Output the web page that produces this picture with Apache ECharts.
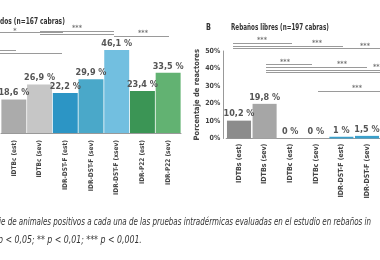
<!DOCTYPE html>
<html><head><meta charset="utf-8">
<script src="https://cdn.jsdelivr.net/npm/echarts@6/dist/echarts.min.js"></script>
<style>html,body{margin:0;padding:0;background:#fff}#c{width:380px;height:260px}</style>
</head><body><div id="c"></div>
<script>
const leftCategories = ['IDTBc (est)','IDTBc (sev)','IDR-DST-F (est)','IDR-DST-F (sev)','IDR-DST-F (xsev)','IDR-P22 (est)','IDR-P22 (sev)'];
const leftValues = [18.6, 26.9, 22.2, 29.9, 46.1, 23.4, 33.5];
const leftColors = ['#ababab','#c6c6c6','#2c95c5','#4aa8c9','#72bfe0','#3b9555','#62b272'];
const rightCategories = ['IDTBs (est)','IDTBs (sev)','IDTBc (est)','IDTBc (sev)','IDR-DST-F (est)','IDR-DST-F (sev)'];
const rightValues = [10.2, 19.8, 0, 0, 1, 1.5];
const rightColors = ['#8c8c8c','#a6a6a6','#a6a6a6','#a6a6a6','#3aa0cc','#3aa0cc'];
const yTickMax = 50, yTickStep = 10;

const FONT = "'Liberation Sans Narrow','DejaVu Sans Condensed',sans-serif";
const fmt = v => String(v).replace('.', ',') + ' %';
const chart = echarts.init(document.getElementById('c'), null, {renderer:'canvas'});

const sig = [];
function sline(x1,y1,x2,y2){ sig.push({type:'line', silent:true, shape:{x1,y1,x2,y2}, style:{stroke:'#9a9a9a', lineWidth:1}}); }
function star(x,y,t){ sig.push({type:'text', silent:true, x, y, style:{text:t, fill:'#777', font:'bold 7px '+FONT, textAlign:'center', textVerticalAlign:'middle'}}); }
// left panel
sline(0,32.5,63,32.5); star(15,31,'*');
sline(40,31.5,114,31.5); star(77,28.5,'***');
sline(40,34.5,114,34.5);
sline(114,36.5,169,36.5); star(143,33.5,'***');
sline(0,50.5,16,50.5);
sline(0,53.5,62,53.5);
// right panel
sline(233,43.5,292,43.5); star(262,40.5,'***');
sline(233,46.5,343,46.5); star(317,43,'***');
sline(233,48.5,380,48.5); star(365,46,'***');
sline(266,64.5,312,64.5); star(285,62,'***');
sline(266,67.5,367,67.5); star(342,64.5,'***');
sline(266,70.5,380,70.5); star(378,67.5,'***');
sline(266,72.5,380,72.5);
sline(318,91.5,380,91.5); star(357,88.5,'***');

const option = {
  animation:false,
  grid:[
    {left:1, top:43, width:180, height:90},
    {left:226.2, top:51, width:153.6, height:87.5}
  ],
  xAxis:[
    {gridIndex:0, type:'category', data:leftCategories, offset:4,
     axisLine:{lineStyle:{color:'#999', width:1}}, axisTick:{show:false},
     axisLabel:{rotate:90, interval:0, margin:3, fontSize:6.5, fontWeight:'bold', color:'#444', fontFamily:FONT}},
    {gridIndex:1, type:'category', data:rightCategories,
     axisLine:{lineStyle:{color:'#999', width:1}}, axisTick:{show:false},
     axisLabel:{rotate:90, interval:0, margin:5, fontSize:7, fontWeight:'bold', color:'#444', fontFamily:FONT}}
  ],
  yAxis:[
    {gridIndex:0, type:'value', min:0, max:yTickMax, show:false, splitLine:{show:false}},
    {gridIndex:1, type:'value', min:0, max:yTickMax, interval:yTickStep, offset:3,
     axisLine:{show:true, lineStyle:{color:'#999'}}, axisTick:{show:false}, splitLine:{show:false},
     axisLabel:{formatter:'{value}%', fontSize:7, fontWeight:'bold', color:'#444', margin:3, fontFamily:FONT},
     name:'Porcentaje de reactores', nameLocation:'middle', nameGap:5, nameRotate:90,
     nameTextStyle:{fontSize:7.5, fontWeight:'bold', color:'#444', fontFamily:FONT}}
  ],
  series:[
    {type:'bar', xAxisIndex:0, yAxisIndex:0, barCategoryGap:'3%',
     data:leftValues.map((v,i)=>({value:v, itemStyle:{color:leftColors[i]}})),
     label:{show:true, position:'top', distance:2, formatter:p=>fmt(p.value), fontSize:9, fontWeight:'bold', color:'#555', fontFamily:FONT}},
    {type:'bar', xAxisIndex:1, yAxisIndex:1, barCategoryGap:'6%', barMinHeight:0,
     data:rightValues.map((v,i)=>({value:v, itemStyle:{color:rightColors[i]}})),
     label:{show:true, position:'top', distance:2, formatter:p=>fmt(p.value), fontSize:9, fontWeight:'bold', color:'#555', fontFamily:FONT}}
  ],
  graphic:[
    {type:'text', x:0, y:22, scaleX:0.69, style:{text:'dos (n=167 cabras)', fill:'#333', font:'bold 9.5px '+FONT, textVerticalAlign:'middle'}},
    {type:'text', x:206, y:28, scaleX:0.8, style:{text:'B', fill:'#333', font:'bold 9px '+FONT, textVerticalAlign:'middle'}},
    {type:'text', x:231, y:28, scaleX:0.66, style:{text:'Rebaños libres (n=197 cabras)', fill:'#333', font:'bold 9.5px '+FONT, textVerticalAlign:'middle'}},
    {type:'text', x:-1, y:222, scaleX:0.72, style:{text:'ie de animales positivos a cada una de las pruebas intradérmicas evaluadas en el estudio en rebaños in', fill:'#333', font:'italic 11px '+FONT, textVerticalAlign:'middle'}},
    {type:'text', x:-2, y:240, scaleX:0.79, style:{text:'p < 0,05; ** p < 0,01; *** p < 0,001.', fill:'#333', font:'italic 11px '+FONT, textVerticalAlign:'middle'}},
    ...sig
  ]
};
chart.setOption(option);
</script></body></html>
